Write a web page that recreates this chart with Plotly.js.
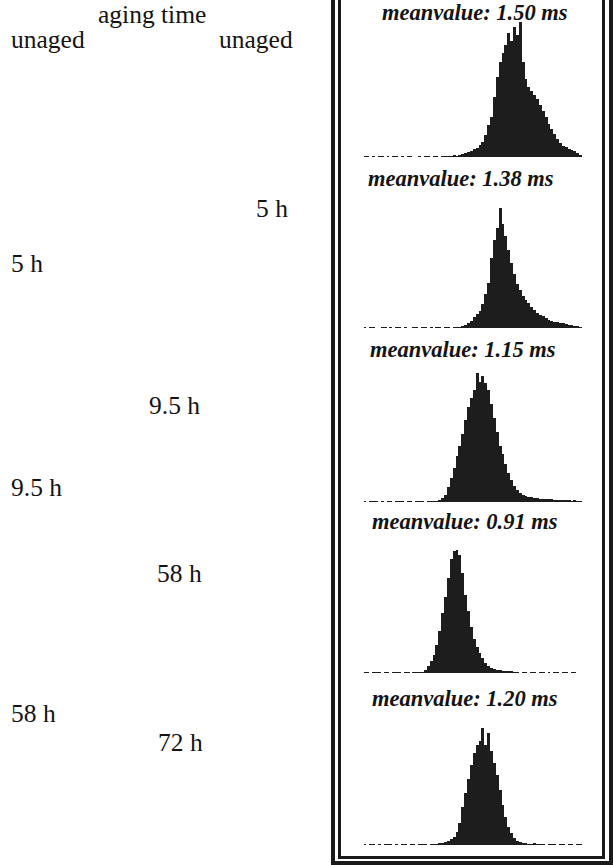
<!DOCTYPE html>
<html>
<head>
<meta charset="utf-8">
<script src="https://cdn.plot.ly/plotly-3.0.1.min.js"></script>
<style>
html,body{margin:0;padding:0;background:#fff;}
#chart{width:613px;height:865px;}
</style>
</head>
<body>
<div id="chart"></div>
<script>
// ---- data -----------------------------------------------------------
// histogram bins: first bin centre and bin width (ms)
const binStart = 0.0125;
const binWidth = 0.025;

const meanLabels = ['meanvalue: 1.50 ms','meanvalue: 1.38 ms','meanvalue: 1.15 ms','meanvalue: 0.91 ms','meanvalue: 1.20 ms'];
const agingLabels = ['aging time','unaged','unaged','5 h','5 h','9.5 h','9.5 h','58 h','58 h','72 h'];

// counts per bin (80 bins, 0 - 2 ms)
const countsUnaged = [0,0,0,0,
  1,1,0,1,0,1,1,0,1,0, 1,1,0,1,0,1,1,0,0,1, 0,1,1,0,1,1,0,1,1,1, 1,2,
  1,2,3,4,5,6,8,9,12,15, 22,32,40,60,80,95,104,112,124,116, 130,122,135,95,78,70,66,62,58,52,
  46,40,33,28,23,18,14,11,10,8, 7,6,4,2];
const counts5h = [0,0,0,0,
  1,0,1,1,0,0,1,1,0,1, 0,1,1,0,1,0,0,1,1,0, 1,1,0,1,0,1,1,0,1,1, 0,1,
  1,1,2,3,5,7,11,14,17,24, 34,45,70,88,100,120,104,92,78,65, 54,44,38,32,28,25,21,18,15,13,
  12,10,8,7,6,6,5,5,4,3, 3,2,2,1];
const counts9_5h = [0,0,0,0,
  1,0,1,1,1,0,1,0,1,1, 0,1,1,1,0,1,1,0,1,1, 1,0,1,1,1,1,
  2,4,7,15,24,34,46,56,68,82, 95,104,112,129,120,126,119,112,98,84,
  70,56,48,38,29,22,16,12,9,7, 6,5,5,4,4,3,3,3,3,3, 2,2,2,2,2,2,1,2,1,1];
const counts58h = [0,0,0,0,
  1,1,0,1,1,1,0,1,1,0, 1,1,1,0,1,1,0,1,1,1,
  1,3,7,12,18,28,42,60,76,95, 114,122,123,118,100,78,62,46,34,26,
  20,15,10,7,5,4,3,3,2,2, 2,2,1,1,0,1,1,0,1,1, 0,1,1,0,1,0,1,1,0,1, 1,0,1,1,0,0];
const counts72h = [0,0,0,0,
  1,0,1,1,0,1,0,1,1,1, 0,1,0,1,1,0,1,1,0,1, 1,1,0,1,1,
  1,2,2,3,4,6,8,13,22,38, 52,66,80,92,100,104,117,100,112,94,
  82,70,55,40,28,18,12,7,4,3, 2,2,1,1,2,1,1,1,0,1, 1,1,0,1,1,0,1,1,0,1, 1];

const panels = [countsUnaged, counts5h, counts9_5h, counts58h, counts72h];

// ---- layout helpers (pixel -> paper) ------------------------------
const W = 613, H = 865;
const fx = px => px / W;
const fy = px => 1 - px / H;

const baselines = [157, 328, 502, 673, 845];   // px of each panel's zero line
const panelHeight = 140;                        // px spanned by y range [0,140]
const xDomainPx = [352, 582];

const data = [];
const layout = {
  width: W, height: H,
  margin: {l:0, r:0, t:0, b:0, pad:0},
  paper_bgcolor: '#ffffff', plot_bgcolor: 'rgba(0,0,0,0)',
  showlegend: false, bargap: 0,
  font: {family: 'Liberation Serif, serif', color: '#111'},
  annotations: [], shapes: []
};

panels.forEach((counts, i) => {
  const n = i + 1;
  const xa = n === 1 ? 'x' : 'x' + n;
  const ya = n === 1 ? 'y' : 'y' + n;
  data.push({
    type: 'bar', x0: binStart, dx: binWidth, y: counts,
    xaxis: xa, yaxis: ya,
    marker: {color: '#1d1d1d', line: {width: 0}},
    hoverinfo: 'skip'
  });
  const axBase = {showgrid:false, zeroline:false, showline:false, showticklabels:false, ticks:'', fixedrange:true};
  layout[n === 1 ? 'xaxis' : 'xaxis' + n] = Object.assign({}, axBase, {
    domain: [fx(xDomainPx[0]), fx(xDomainPx[1])], range: [0, 2.0], anchor: ya
  });
  layout[n === 1 ? 'yaxis' : 'yaxis' + n] = Object.assign({}, axBase, {
    domain: [fy(baselines[i]), fy(baselines[i] - panelHeight)], range: [0, panelHeight], anchor: xa
  });
});

// text placed by left edge and baseline
function label(text, left, baseline, size, bold, italic) {
  const t = (bold ? '<b>' : '') + (italic ? '<i>' : '') + text + (italic ? '</i>' : '') + (bold ? '</b>' : '');
  return {
    text: t, showarrow: false, xref: 'paper', yref: 'paper',
    xanchor: 'left', yanchor: 'bottom',
    x: fx(left - 1), y: fy(baseline + 0.22 * size + 1),
    font: {family: 'Liberation Serif, serif', size: size, color: '#141414'}
  };
}

const meanPos = [[381, 21.5], [367, 187], [369, 358], [371, 530], [371, 707]];
meanLabels.forEach((t, i) => layout.annotations.push(label(t, meanPos[i][0], meanPos[i][1], 22.5, true, true)));

const agingPos = [[97, 24.5], [10, 49], [218, 49], [255, 218], [10, 273], [148, 415], [10, 497], [156, 583], [10, 723], [157, 752]];
agingLabels.forEach((t, i) => layout.annotations.push(label(t, agingPos[i][0], agingPos[i][1], 25.5, false, false)));

// double frame around the histogram column
layout.shapes.push({type:'rect', xref:'paper', yref:'paper',
  x0: fx(333), x1: fx(611), y0: fy(863), y1: fy(-10),
  line: {color:'#1a1a1a', width: 4}, fillcolor: 'rgba(0,0,0,0)'});
layout.shapes.push({type:'rect', xref:'paper', yref:'paper',
  x0: fx(339.5), x1: fx(603.5), y0: fy(857.5), y1: fy(-10),
  line: {color:'#1a1a1a', width: 3}, fillcolor: 'rgba(0,0,0,0)'});

Plotly.newPlot('chart', data, layout, {displayModeBar: false, staticPlot: true});
</script>
</body>
</html>
